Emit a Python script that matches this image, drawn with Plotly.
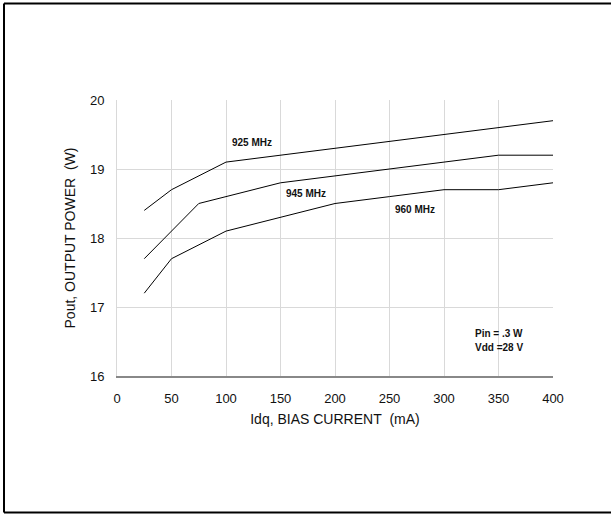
import plotly.graph_objects as go

idq_925 = [25, 50, 100, 150, 200, 250, 300, 350, 400]
pout_925 = [18.4, 18.7, 19.1, 19.2, 19.3, 19.4, 19.5, 19.6, 19.7]

idq_945 = [25, 75, 150, 200, 250, 300, 350, 400]
pout_945 = [17.7, 18.5, 18.8, 18.9, 19.0, 19.1, 19.2, 19.2]

idq_960 = [25, 50, 100, 150, 200, 250, 300, 350, 400]
pout_960 = [17.2, 17.7, 18.1, 18.3, 18.5, 18.6, 18.7, 18.7, 18.8]

x_ticks = [0, 50, 100, 150, 200, 250, 300, 350, 400]
y_ticks = [16, 17, 18, 19, 20]

labels = ["925 MHz", "945 MHz", "960 MHz"]
label_x = [124, 173, 273]
label_y = [19.39, 18.64, 18.41]

note_lines = ["Pin = .3 W", "Vdd =28 V"]
note_x = 350
note_y = [16.61, 16.41]

FONT = "Liberation Sans, Arial, sans-serif"

fig = go.Figure()
for xs, ys, name in [(idq_925, pout_925, labels[0]),
                     (idq_945, pout_945, labels[1]),
                     (idq_960, pout_960, labels[2])]:
    fig.add_trace(go.Scatter(x=xs, y=ys, mode="lines", name=name,
                             line=dict(color="black", width=1),
                             showlegend=False, hoverinfo="skip"))

for t, xv, yv in zip(labels, label_x, label_y):
    fig.add_annotation(x=xv, y=yv, text=f"<b>{t}</b>", showarrow=False,
                       font=dict(family=FONT, size=10, color="#111"))
for t, yv in zip(note_lines, note_y):
    fig.add_annotation(x=note_x, y=yv, text=f"<b>{t}</b>", showarrow=False,
                       font=dict(family=FONT, size=10, color="#111"))

# outer frame (left, top, bottom edges; right edge lies outside the picture)
px_l = (4 - 117) / 436
px_r = (611 - 117) / 436
py_t = (376 - 3.5) / 276
py_b = (376 - 512.5) / 276
frame = dict(color="black", width=2)
fig.add_shape(type="line", xref="paper", yref="paper", x0=px_l, x1=px_l, y0=py_b, y1=py_t, line=frame)
fig.add_shape(type="line", xref="paper", yref="paper", x0=px_l, x1=px_r, y0=py_t, y1=py_t, line=frame)
fig.add_shape(type="line", xref="paper", yref="paper", x0=px_l, x1=px_r, y0=py_b, y1=py_b, line=frame)

fig.update_layout(
    width=612, height=514,
    margin=dict(l=117, r=59, t=100, b=138),
    paper_bgcolor="white", plot_bgcolor="white",
    font=dict(family=FONT, size=13, color="#111"),
    xaxis=dict(range=[0, 400], tickvals=x_ticks, ticktext=[str(v) for v in x_ticks],
               showgrid=True, gridcolor="#d9d9d9", gridwidth=1, zeroline=False,
               showline=True, linecolor="#888", linewidth=1.5, ticks="",
               ticklabelstandoff=10,
               title=dict(text="Idq, BIAS CURRENT&nbsp;&nbsp;(mA)", font=dict(size=14), standoff=9),
               tickfont=dict(size=13)),
    yaxis=dict(range=[16, 20], tickvals=y_ticks, ticktext=[str(v) for v in y_ticks],
               showgrid=True, gridcolor="#d9d9d9", gridwidth=1, zeroline=False,
               showline=True, linecolor="#d9d9d9", linewidth=1, ticks="",
               ticklabelstandoff=9,
               title=dict(text="Pout, OUTPUT POWER&nbsp;&nbsp;(W)", font=dict(size=14), standoff=11),
               tickfont=dict(size=13)),
)

fig.write_html("out.html", config={"displayModeBar": False},
               post_script="document.documentElement.style.overflow='hidden';"
                           "document.body.style.margin='0';document.body.style.overflow='hidden';")
